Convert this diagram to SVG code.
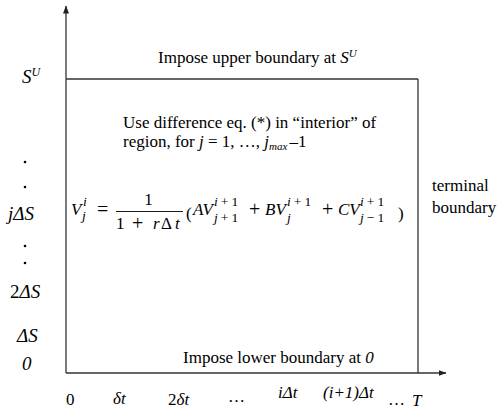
<svg xmlns="http://www.w3.org/2000/svg" width="497" height="407" viewBox="0 0 497 407" font-family="'Liberation Serif', 'Times New Roman', serif">
<style>
.t { font-size: 17px; }
.it { font-style: italic; }
.lab { font-size: 19px; font-style: italic; }
.m { font-size: 17px; }
.op { font-size: 20px; }
.s { font-size: 13.5px; }
.ln { stroke: #333; stroke-width: 1.3; fill: none; }
.dot { fill: #000; }
</style>
<defs>
<marker id="ah" markerWidth="8" markerHeight="6" refX="7.5" refY="3" orient="auto" markerUnits="userSpaceOnUse">
<path d="M0,0 L8,3 L0,6 z" fill="#222"/>
</marker>
</defs>

<g id="connectors">
<line class="ln" x1="66" y1="373" x2="66" y2="6" marker-end="url(#ah)"/>
<line class="ln" x1="66" y1="373" x2="446" y2="373" marker-end="url(#ah)"/>
<line class="ln" x1="66" y1="79" x2="418" y2="79"/>
<line class="ln" x1="418" y1="79" x2="418" y2="373"/>
</g>

<g id="upper-boundary">
<text class="t" x="158" y="63">Impose upper boundary at <tspan class="it">S</tspan><tspan class="it" font-size="11" dy="-6">U</tspan></text>
</g>

<g id="interior">
<text class="t" x="123" y="128" font-size="16.2">Use difference eq. (*) in “interior” of</text>
<text class="t" x="123" y="147" font-size="16.5">region, for <tspan class="it">j</tspan> = 1, …, <tspan class="it">j</tspan><tspan class="it" font-size="11" dy="3">max</tspan><tspan dy="-3" dx="2">–1</tspan></text>
</g>

<g id="equation">
<text class="m it" x="71" y="215">V</text>
<text class="s it" x="83" y="206">i</text>
<text class="s it" x="82" y="220">j</text>
<text class="op" x="97" y="216">=</text>
<text class="m" x="148.5" y="205" text-anchor="middle">1</text>
<line x1="116" y1="211.5" x2="183" y2="211.5" stroke="#000" stroke-width="0.9"/>
<text class="m" x="116" y="229">1</text>
<text class="op" x="132" y="230">+</text>
<text class="m it" x="153" y="229">r</text>
<text class="m" x="161" y="229">Δ</text>
<text class="m it" x="175" y="229">t</text>
<text class="m" x="186" y="219" font-size="22">(</text>
<text class="m it" x="193" y="215">AV</text>
<text class="s" x="214" y="206"><tspan class="it">i</tspan><tspan dx="3">+</tspan><tspan dx="3">1</tspan></text>
<text class="s" x="214" y="222"><tspan class="it">j</tspan><tspan dx="3">+</tspan><tspan dx="3">1</tspan></text>
<text class="op" x="249" y="216">+</text>
<text class="m it" x="265" y="215">BV</text>
<text class="s" x="287" y="206"><tspan class="it">i</tspan><tspan dx="3">+</tspan><tspan dx="3">1</tspan></text>
<text class="s it" x="287" y="222">j</text>
<text class="op" x="322" y="216">+</text>
<text class="m it" x="338" y="215">CV</text>
<text class="s" x="360" y="206"><tspan class="it">i</tspan><tspan dx="3">+</tspan><tspan dx="3">1</tspan></text>
<text class="s" x="360" y="222"><tspan class="it">j</tspan><tspan dx="3">−</tspan><tspan dx="3">1</tspan></text>
<text class="m" x="398" y="219" font-size="22">)</text>
</g>

<g id="terminal-boundary">
<text class="t" x="432" y="191">terminal</text>
<text class="t" x="432" y="213">boundary</text>
</g>

<g id="lower-boundary">
<text class="t" x="183" y="363">Impose lower boundary at <tspan class="it">0</tspan></text>
</g>

<g id="s-axis-labels">
<text class="lab" x="22" y="83">S<tspan font-size="12" dy="-7">U</tspan></text>
<circle class="dot" cx="25" cy="162" r="1.3"/>
<circle class="dot" cx="25" cy="187" r="1.3"/>
<text class="lab" x="8" y="220">jΔS</text>
<circle class="dot" cx="25" cy="246" r="1.3"/>
<circle class="dot" cx="25" cy="263" r="1.3"/>
<text class="lab" x="10" y="298"><tspan font-style="normal">2</tspan>ΔS</text>
<text class="lab" x="17" y="342">ΔS</text>
<text class="lab" x="22" y="370">0</text>
</g>

<g id="t-axis-labels">
<text class="t" x="66" y="405">0</text>
<text class="t it" x="113" y="404">δt</text>
<text class="t" x="168" y="405">2<tspan class="it">δt</tspan></text>
<text class="t" x="228" y="402">…</text>
<text class="t it" x="278" y="398">iΔt</text>
<text class="t it" x="323" y="398">(i+1)Δt</text>
<text class="t" x="388" y="405">…</text>
<text class="t it" x="412" y="406">T</text>
</g>
</svg>
